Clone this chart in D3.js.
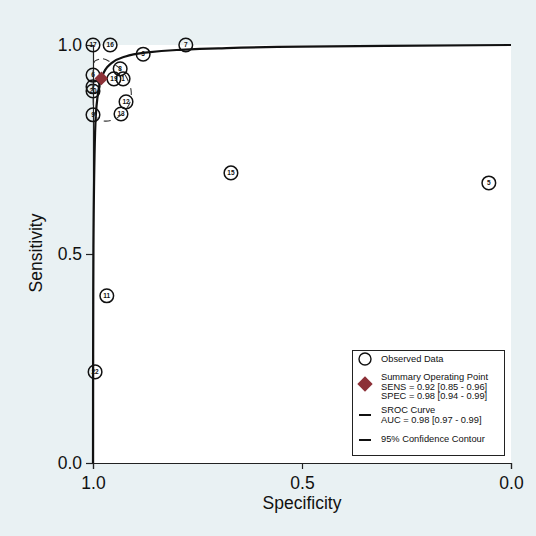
<!DOCTYPE html>
<html lang="en">
<head>
    <meta charset="UTF-8">
    <title>SROC</title>
    <script src="https://d3js.org/d3.v7.min.js"></script>
    <style>
        body { margin: 0; background: #e9f1f3; }
        svg { display: block; font-family: "Liberation Sans", Arial, sans-serif; }
    </style>
</head>
<body>
    <svg class="chart"></svg>

    <script>
        // studies: label, specificity, sensitivity
        const studyLabels = ['17', '16', '7', '3', '8', '19', '1', '6', '2', '20', '12', '13', '9', '15', '5', '11', '22'];
        const studySpec = [1.0, 0.959, 0.778, 0.880, 0.935, 0.950, 0.928, 1.0, 1.0, 1.0, 0.921, 0.933, 1.0, 0.670, 0.053, 0.967, 0.995];
        const studySens = [1.0, 1.0, 1.0, 0.978, 0.943, 0.919, 0.919, 0.928, 0.900, 0.890, 0.864, 0.835, 0.833, 0.694, 0.670, 0.400, 0.218];

        // summary operating point
        const summarySpec = 0.98;
        const summarySens = 0.92;

        // SROC curve
        const srocSpec = [1.0, 0.9999, 0.9995, 0.999, 0.995, 0.99, 0.98, 0.96, 0.93, 0.88, 0.8, 0.7, 0.5, 0.3, 0.0];
        const srocSens = [0.0, 0.147, 0.38, 0.515, 0.79, 0.869, 0.92, 0.953, 0.970, 0.981, 0.988, 0.992, 0.996, 0.998, 1.0];

        // 95% confidence contour
        const contourSpec = [0.995, 0.976, 0.955, 0.935, 0.919, 0.909, 0.911, 0.926, 0.947, 0.971, 0.990, 0.998, 1.0, 1.0, 0.998];
        const contourSens = [0.962, 0.967, 0.957, 0.943, 0.921, 0.892, 0.864, 0.840, 0.823, 0.818, 0.825, 0.844, 0.880, 0.928, 0.952];

        const legendLines = [
            ['Observed Data'],
            ['Summary Operating  Point', 'SENS = 0.92 [0.85 - 0.96]', 'SPEC = 0.98 [0.94 - 0.99]'],
            ['SROC Curve', 'AUC = 0.98 [0.97 - 0.99]'],
            ['95% Confidence Contour']
        ];

        const W = 536, H = 536;
        const svg = d3.select('.chart').attr('width', W).attr('height', H);

        const x = d3.scaleLinear().domain([1, 0]).range([93, 511]);
        const y = d3.scaleLinear().domain([0, 1]).range([463, 45]);

        svg.append('rect').attr('width', W).attr('height', H).attr('fill', '#e9f1f3');
        svg.append('rect')
            .attr('x', x(1)).attr('y', y(1))
            .attr('width', x(0) - x(1)).attr('height', y(0) - y(1))
            .attr('fill', '#ffffff');

        // axes
        const yAxis = svg.append('g')
            .attr('transform', `translate(${x(1)},0)`)
            .call(d3.axisLeft(y).tickValues([0, 0.5, 1]).tickFormat(d3.format('.1f')).tickSize(7).tickPadding(4));
        const xAxis = svg.append('g')
            .attr('transform', `translate(0,${y(0)})`)
            .call(d3.axisBottom(x).tickValues([1, 0.5, 0]).tickFormat(d3.format('.1f')).tickSize(6).tickPadding(8));
        [xAxis, yAxis].forEach(a => {
            a.selectAll('text').attr('font-size', 17.5).attr('fill', '#111').attr('font-family', '"Liberation Sans", Arial, sans-serif');
            a.selectAll('line, path').attr('stroke', '#222').attr('stroke-width', 1.2);
        });

        svg.append('text')
            .attr('x', 302).attr('y', 509)
            .attr('text-anchor', 'middle')
            .attr('font-size', 17.5)
            .attr('fill', '#111')
            .text('Specificity');
        svg.append('text')
            .attr('transform', 'translate(42,253) rotate(-90)')
            .attr('text-anchor', 'middle')
            .attr('font-size', 17.5)
            .attr('fill', '#111')
            .text('Sensitivity');

        // study circles
        const studies = studyLabels.map((l, i) => ({ label: l, spec: studySpec[i], sens: studySens[i] }));
        const dots = svg.append('g').selectAll('g')
            .data(studies)
            .enter()
            .append('g')
            .attr('transform', d => `translate(${x(d.spec)},${y(d.sens)})`);
        dots.append('circle')
            .attr('r', 6.8)
            .attr('fill', 'none')
            .attr('stroke', '#111')
            .attr('stroke-width', 1.5);
        dots.append('text')
            .attr('text-anchor', 'middle')
            .attr('dy', '0.35em')
            .attr('font-size', 6.5)
            .attr('font-weight', 'bold')
            .attr('fill', '#111')
            .text(d => d.label);

        // SROC curve
        const srocPts = srocSpec.map((s, i) => [x(s), y(srocSens[i])]);
        svg.append('path')
            .attr('d', d3.line().curve(d3.curveMonotoneY)(srocPts))
            .attr('fill', 'none')
            .attr('stroke', '#111')
            .attr('stroke-width', 2.2);

        // confidence contour
        const contourPts = contourSpec.map((s, i) => [x(s), y(contourSens[i])]);
        svg.append('path')
            .attr('d', d3.line().curve(d3.curveCardinalClosed)(contourPts))
            .attr('fill', 'none')
            .attr('stroke', '#333')
            .attr('stroke-width', 1.1)
            .attr('stroke-dasharray', '7,7');

        // summary point
        const diamond = d3.symbol().type(d3.symbolDiamond2).size(120);
        svg.append('path')
            .attr('d', diamond())
            .attr('transform', `translate(${x(summarySpec)},${y(summarySens)})`)
            .attr('fill', '#8c3037');

        // legend
        const lg = svg.append('g');
        lg.append('rect')
            .attr('x', 352.5).attr('y', 350.5)
            .attr('width', 152).attr('height', 105)
            .attr('fill', '#fff')
            .attr('stroke', '#222')
            .attr('stroke-width', 1);

        const firstBaselines = [362, 380, 413, 442];
        legendLines.forEach((lines, i) => {
            lines.forEach((t, j) => {
                lg.append('text')
                    .attr('x', 381)
                    .attr('y', firstBaselines[i] + j * 9.7)
                    .attr('font-size', 9.3)
                    .attr('fill', '#111')
                    .text(t);
            });
        });
        lg.append('circle')
            .attr('cx', 365).attr('cy', 359).attr('r', 6)
            .attr('fill', '#fff').attr('stroke', '#111').attr('stroke-width', 1.4);
        lg.append('path')
            .attr('d', d3.symbol().type(d3.symbolDiamond2).size(150)())
            .attr('transform', 'translate(365,384)')
            .attr('fill', '#8c3037');
        [415, 440].forEach(yy => {
            lg.append('line')
                .attr('x1', 359).attr('x2', 371)
                .attr('y1', yy).attr('y2', yy)
                .attr('stroke', '#111').attr('stroke-width', 2);
        });
    </script>
</body>
</html>
